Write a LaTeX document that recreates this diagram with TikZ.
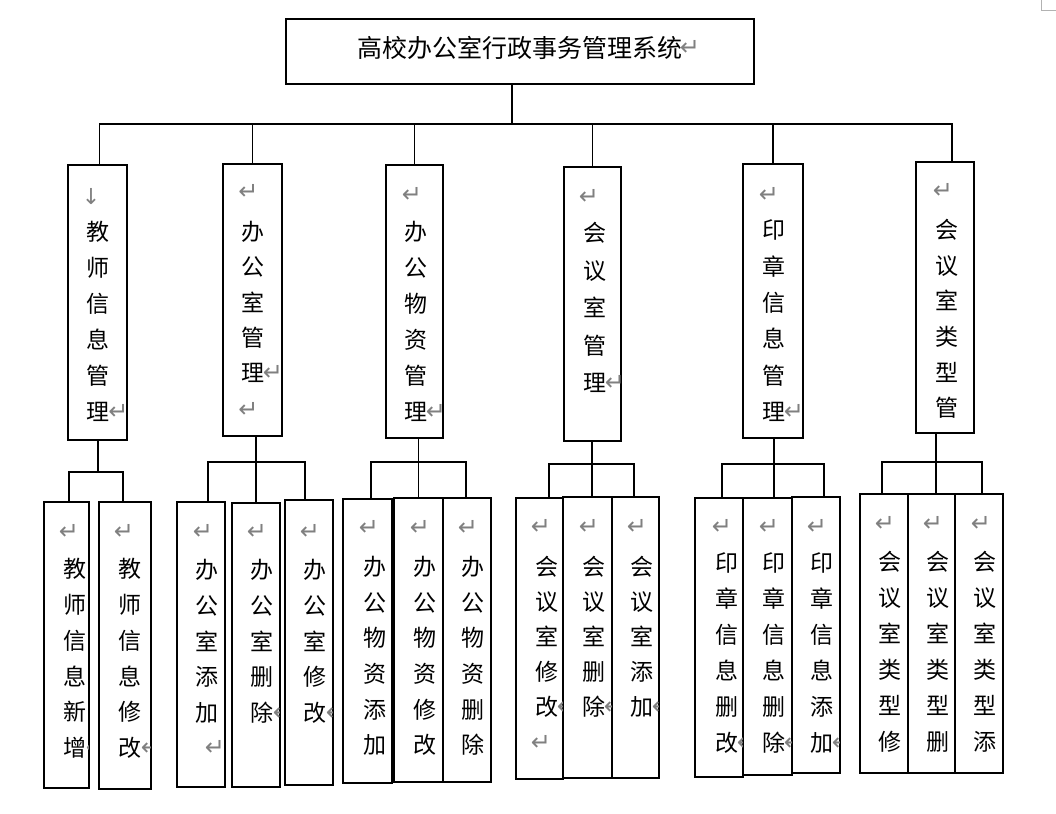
\documentclass[tikz,border=0pt]{standalone}
\usepackage{fontspec}
\newfontfamily\cjk{Noto Sans CJK SC}
\newfontfamily\sym{DejaVu Sans}
\newcommand{\bx}[5]{\node[box, minimum width={(#4)-(#2)}, minimum height={(#5)-(#3)}] (#1) at ({((#2)+(#4))/2},{((#3)+(#5))/2}) {};}
\newcommand{\col}[5]{\foreach \chr [count=\n from 0] in {#5} {\node[ch] (#1-\n) at (#2,{#3+\n*#4}) {\chr};}}
\newcommand{\rt}[3]{\node[ret] (#1) at (#2,#3) {↵};}
\newcommand{\crt}[3]{\begin{scope}\clip ([shift={(1.2,-1.2)}]#1.south west) rectangle ([shift={(-1.2,1.2)}]#1.north east);\node[ret] (#1-r) at (#2,#3) {↵};\end{scope}}
\begin{document}
\begin{tikzpicture}[x=1pt,y=-1pt,
  box/.style={draw=black, line width=1.6pt, inner sep=0pt},
  conn/.style={draw=black, line width=1.4pt, line join=miter},
  ch/.style={font=\cjk\fontsize{23}{23}\selectfont, inner sep=0pt, text height=20.24pt, text depth=2.76pt},
  ttl/.style={font=\cjk\fontsize{25}{25}\selectfont, inner sep=0pt, text height=22pt, text depth=3pt},
  ret/.style={font=\sym\fontsize{24}{24}\selectfont, text=black!50, inner sep=0pt}]
\fill[white] (0,0) rectangle (1056,813);
\useasboundingbox (0,0) rectangle (1056,813);
% page corner mark
\draw[black!30, line width=0.8pt] (1041,0) -- (1041,10) -- (1056,10);

% root
\bx{root}{286}{19}{754}{84}
\node[ttl] (title) at (519.5,48) {高校办公室行政事务管理系统};
\rt{title-r}{690}{48}

% level 1 boxes
\bx{L1a}{68}{165}{127}{440}
\bx{L1b}{223}{164}{282}{436}
\bx{L1c}{386}{165}{443}{438}
\bx{L1d}{564}{167}{621}{441}
\bx{L1e}{743}{164}{803}{438}
\bx{L1f}{916}{162}{974}{433}

\col{L1a}{98}{232}{36}{教,师,信,息,管,理}
\node[ret, font=\sym\fontsize{22}{22}\selectfont] (L1a-d) at (91,197) {↓};
\rt{L1a-r}{118.5}{412}
\col{L1b}{253}{232}{35.25}{办,公,室,管,理}
\rt{L1b-r1}{248.5}{192}\rt{L1b-r2}{273}{373}\rt{L1b-r3}{248.5}{410}
\col{L1c}{416}{232}{36}{办,公,物,资,管,理}
\rt{L1c-r1}{412}{195}\rt{L1c-r2}{436}{412}
\col{L1d}{595}{233}{37.5}{会,议,室,管,理}
\rt{L1d-r1}{589}{197}\rt{L1d-r2}{615}{383}
\col{L1e}{774}{230}{36.4}{印,章,信,息,管,理}
\rt{L1e-r1}{769}{195}\rt{L1e-r2}{794}{412}
\col{L1f}{947}{230}{35.6}{会,议,室,类,型,管}
\rt{L1f-r1}{943}{191}

% level 2 boxes
\bx{G1a}{44}{502}{89}{788}
\bx{G1b}{99}{502}{151}{789}
\bx{G2a}{177}{502}{225}{787}
\bx{G2b}{232}{503}{280}{787}
\bx{G2c}{285}{500}{333}{785}
\bx{G3a}{343}{499}{392}{783}
\bx{G3b}{394}{498}{443}{782}
\bx{G3c}{443}{498}{491}{782}
\bx{G4a}{516}{498}{563}{779}
\bx{G4b}{563}{497}{612}{778}
\bx{G4c}{612}{497}{659}{778}
\bx{G5a}{695}{498}{743}{777}
\bx{G5b}{743}{498}{792}{775}
\bx{G5c}{792}{497}{840}{773}
\bx{G6a}{860}{494}{908}{773}
\bx{G6b}{908}{494}{955}{773}
\bx{G6c}{955}{494}{1003}{773}

\col{G1a}{75}{569}{35.8}{教,师,信,息,新,增}
\col{G1b}{130}{569}{35.8}{教,师,信,息,修,改}
\rt{G1a-r1}{69}{532}\rt{G1b-r1}{124}{532}
\crt{G1a}{96}{748}\crt{G1b}{151}{748}

\col{G2a}{207}{570}{35.75}{办,公,室,添,加}
\col{G2b}{262}{570}{35.75}{办,公,室,删,除}
\col{G2c}{315}{570}{35.75}{办,公,室,修,改}
\rt{G2a-r1}{203}{532}\rt{G2b-r1}{257}{532}\rt{G2c-r1}{310}{532}
\rt{G2a-r2}{215}{748}
\crt{G2b}{283}{713}\crt{G2c}{336}{713}

\col{G3a}{375}{567}{35.6}{办,公,物,资,添,加}
\col{G3b}{425}{567}{35.6}{办,公,物,资,修,改}
\col{G3c}{473}{567}{35.6}{办,公,物,资,删,除}
\rt{G3a-r1}{369}{528}\rt{G3b-r1}{420}{528}\rt{G3c-r1}{468}{528}

\col{G4a}{547}{567}{35}{会,议,室,修,改}
\col{G4b}{594}{567}{35}{会,议,室,删,除}
\col{G4c}{642}{567}{35}{会,议,室,添,加}
\rt{G4a-r1}{541}{527}\rt{G4b-r1}{589}{527}\rt{G4c-r1}{637}{527}
\rt{G4a-r2}{541}{743}
\crt{G4a}{567}{707}\crt{G4b}{614}{707}\crt{G4c}{662}{707}

\col{G5a}{727}{563}{36}{印,章,信,息,删,改}
\col{G5b}{774}{563}{36}{印,章,信,息,删,除}
\col{G5c}{822}{563}{36}{印,章,信,息,添,加}
\rt{G5a-r1}{722}{527}\rt{G5b-r1}{769}{527}\rt{G5c-r1}{817}{527}
\crt{G5a}{747}{743}\crt{G5b}{794}{743}\crt{G5c}{842}{743}

\col{G6a}{890}{562}{36}{会,议,室,类,型,修}
\col{G6b}{938}{562}{36}{会,议,室,类,型,删}
\col{G6c}{985}{562}{36}{会,议,室,类,型,添}
\rt{G6a-r1}{885}{524}\rt{G6b-r1}{933}{524}\rt{G6c-r1}{981}{524}

% top connectors
\coordinate (rootdrop) at (512,124);
\coordinate (busL) at (99.5,124);
\coordinate (busR) at (952,124);
\draw[conn] (rootdrop |- root.south) -- (rootdrop);
\draw[conn] (busL |- L1a.north) -- (busL) -- (busR) -- (busR |- L1f.north);
\draw[conn] (L1b.north |- busL) -- (L1b.north);
\draw[conn] (L1c.north |- busL) -- (L1c.north);
\draw[conn] (L1d.north |- busL) -- (L1d.north);
\draw[conn] (L1e.north |- busL) -- (L1e.north);

% group 1
\coordinate (g1l) at (69,472); \coordinate (g1m) at (98,472); \coordinate (g1r) at (123,472);
\draw[conn] (g1m |- L1a.south) -- (g1m);
\draw[conn] (g1l |- G1a.north) -- (g1l) -- (g1r) -- (g1r |- G1b.north);
% group 2
\coordinate (g2l) at (208,462); \coordinate (g2m) at (256,462); \coordinate (g2r) at (305,462);
\draw[conn] (g2l |- G2a.north) -- (g2l) -- (g2r) -- (g2r |- G2c.north);
\draw[conn] (g2m |- L1b.south) -- (g2m |- G2b.north);
% group 3
\coordinate (g3l) at (371,462); \coordinate (g3m) at (418.5,462); \coordinate (g3r) at (466,462);
\draw[conn] (g3l |- G3a.north) -- (g3l) -- (g3r) -- (g3r |- G3c.north);
\draw[conn] (g3m |- L1c.south) -- (g3m |- G3b.north);
% group 4
\coordinate (g4l) at (549,464); \coordinate (g4m) at (592,464); \coordinate (g4r) at (634,464);
\draw[conn] (g4l |- G4a.north) -- (g4l) -- (g4r) -- (g4r |- G4c.north);
\draw[conn] (g4m |- L1d.south) -- (g4m |- G4b.north);
% group 5
\coordinate (g5l) at (722,464); \coordinate (g5m) at (774,464); \coordinate (g5r) at (824,464);
\draw[conn] (g5l |- G5a.north) -- (g5l) -- (g5r) -- (g5r |- G5c.north);
\draw[conn] (g5m |- L1e.south) -- (g5m |- G5b.north);
% group 6
\coordinate (g6l) at (882,462); \coordinate (g6m) at (936,462); \coordinate (g6r) at (982,462);
\draw[conn] (g6l |- G6a.north) -- (g6l) -- (g6r) -- (g6r |- G6c.north);
\draw[conn] (g6m |- L1f.south) -- (g6m |- G6b.north);
\end{tikzpicture}
\end{document}
